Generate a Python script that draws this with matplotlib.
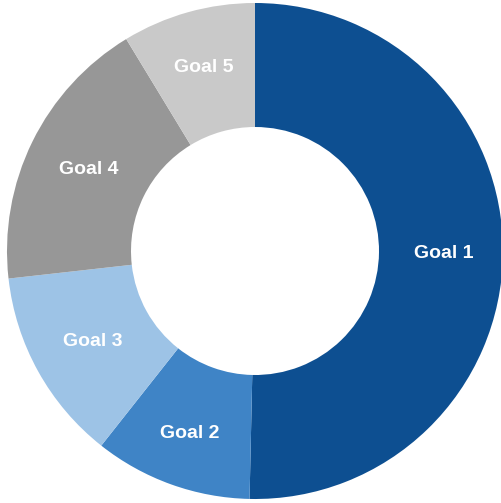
import matplotlib
matplotlib.use("Agg")
import matplotlib.pyplot as plt
import numpy as np

categories = ["Goal 1", "Goal 2", "Goal 3", "Goal 4", "Goal 5"]
values = [50.4, 10.3, 12.6, 18.1, 8.7]
colors = ["#0D4F91", "#3F84C6", "#9DC3E6", "#979797", "#C9C9C9"]
label_radii = [0.76, 0.78, 0.75, 0.745, 0.77]

fig = plt.figure(figsize=(5.02, 5.03), dpi=100)
W, H = 502, 503
cx, cy, R = 255, 251, 248
ax = fig.add_axes([(cx - R) / W, (H - cy - R) / H, 2 * R / W, 2 * R / H])
wedges, _ = ax.pie(values, colors=colors, startangle=90,
                   counterclock=False, radius=1.0,
                   wedgeprops=dict(width=0.5, linewidth=0))
for w, lab, r in zip(wedges, categories, label_radii):
    ang = np.deg2rad((w.theta1 + w.theta2) / 2)
    ax.text(r * np.cos(ang), r * np.sin(ang), lab, ha="center", va="center",
            color="white", fontsize=14, fontweight="bold",
            family=["Liberation Sans", "DejaVu Sans"])
ax.set_xlim(-1, 1)
ax.set_ylim(-1, 1)
ax.set_aspect("equal")
ax.axis("off")
fig.savefig("out.png", dpi=100)
